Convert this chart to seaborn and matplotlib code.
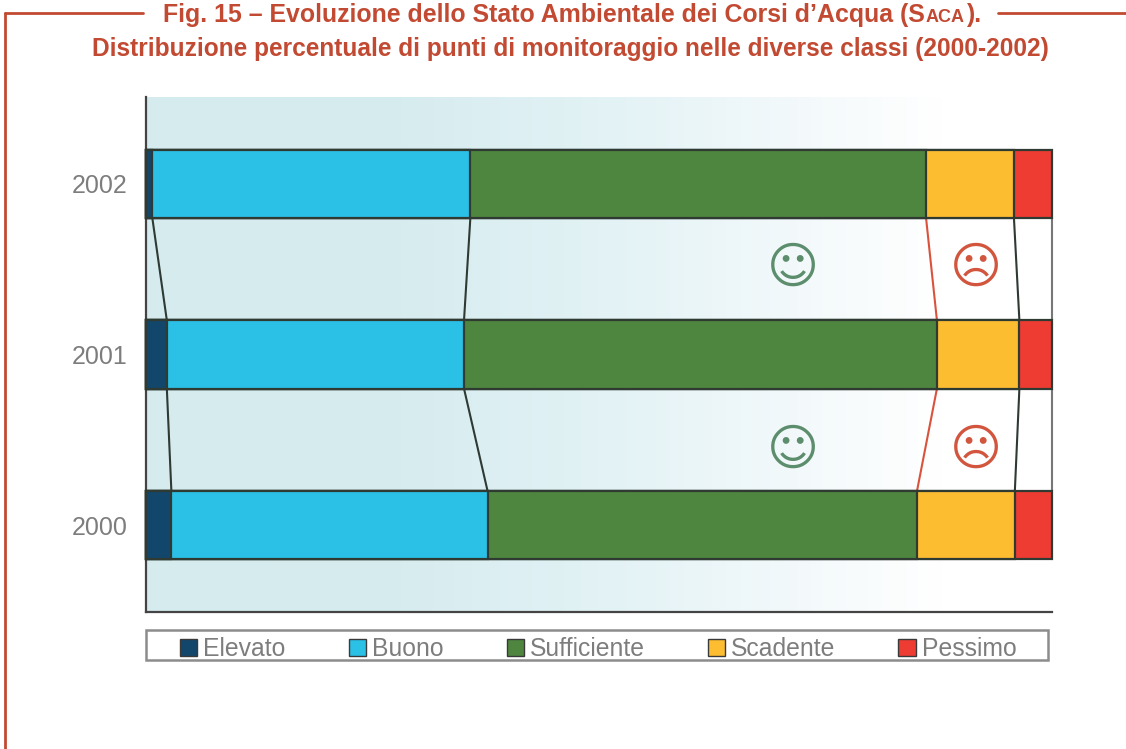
import numpy as np
import pandas as pd
import matplotlib
matplotlib.use('Agg')
import matplotlib.pyplot as plt
import seaborn as sns
from matplotlib.colors import LinearSegmentedColormap
from matplotlib.lines import Line2D
from matplotlib.patches import Patch, Rectangle

# Values (percent of monitoring points)
years = ['2002', '2001', '2000']
classes = ['Elevato', 'Buono', 'Sufficiente', 'Scadente', 'Pessimo']
elevato = [0.7, 2.3, 2.8]
buono = [35.1, 32.8, 34.9]
sufficiente = [50.3, 52.2, 47.4]
scadente = [9.7, 9.1, 10.8]
pessimo = [4.2, 3.6, 4.1]

colors = ['#12466b', '#2bc0e6', '#4f863f', '#fdbd30', '#ee3c33']
red = '#c24a32'
W, H = 1126, 749

sns.set_theme(style='white')
plt.rcParams['font.family'] = ['Liberation Sans', 'DejaVu Sans']

fig = plt.figure(figsize=(W / 100, H / 100), dpi=100)
ax = fig.add_axes([146 / W, 1 - 612 / H, (1052 - 146) / W, (612 - 97) / H])

# Background fade
fade = LinearSegmentedColormap.from_list('fade', [(0, '#d5ebee'), (0.28, '#d7ecef'), (0.5, '#e2f2f5'),
                                                  (0.72, '#f3f9fb'), (0.88, '#ffffff'), (1, '#ffffff')])
ax.imshow(np.linspace(0, 1, 256).reshape(1, -1), cmap=fade, aspect='auto', extent=(0, 100, 2.51, -0.51), zorder=0)

# Stacked bars: cumulative totals drawn from the longest down
df = pd.DataFrame({'year': years, 'Elevato': elevato, 'Buono': buono, 'Sufficiente': sufficiente,
                   'Scadente': scadente, 'Pessimo': pessimo})
cum = df[classes].cumsum(axis=1)
cum['year'] = df['year']
for name, col in reversed(list(zip(classes, colors))):
    sns.barplot(data=cum, x=name, y='year', order=years, color=col, saturation=1, width=0.4,
                edgecolor='#2f3a33', linewidth=1.6, ax=ax, zorder=3)
for bar in ax.patches:
    bar.set_clip_on(False)

# Connector lines between the bars
bar_half = 0.2
for name in classes:
    line_col = '#d9533c' if name == 'Sufficiente' else '#2f3a33'
    if name == 'Pessimo':
        line_col = '#777777'
    vals = cum[name].values
    for i in range(len(years) - 1):
        ax.plot([vals[i], vals[i + 1]], [i + bar_half, i + 1 - bar_half], color=line_col, lw=1.5, zorder=2,
                clip_on=False)

# Smiley faces
for y_face in [0.497, 1.567]:
    ax.text(71.4, y_face, '\u263a', family='DejaVu Sans', fontsize=36, color='#5c8d6c', ha='center', va='center', zorder=4)
    ax.text(91.6, y_face, '\u2639', family='DejaVu Sans', fontsize=36, color='#d2563e', ha='center', va='center', zorder=4)

ax.set_xlim(0, 100)
ax.set_ylim(2.51, -0.51)
ax.set_xlabel('')
ax.set_ylabel('')
ax.set_xticks([])
ax.tick_params(axis='y', length=0, pad=13.5, labelsize=18, labelcolor='#7d7d7d')
sns.despine(ax=ax)
for side in ['left', 'bottom']:
    ax.spines[side].set_color('#444444')
    ax.spines[side].set_linewidth(1.6)


def fx(px):
    return px / W


def fy(px):
    return 1 - px / H


# Legend in its own box
fig.add_artist(Rectangle((fx(146), fy(660)), (1048 - 146) / W, 30 / H, transform=fig.transFigure,
                         facecolor='white', edgecolor='#8c8c8c', linewidth=1.8))
handles = [Patch(facecolor=c, edgecolor='#3a3a3a', linewidth=1) for c in colors]
fig.legend(handles, classes, ncol=5, loc='center left', bbox_to_anchor=(fx(180), fy(649)), frameon=False,
           fontsize=17.8, labelcolor='#7d7d7d', handlelength=0.7, handleheight=0.7, handletextpad=0.25,
           columnspacing=2.54, borderpad=0, borderaxespad=0)

# Red frame round the figure
for xs, ys in [((5, 5), (13, 749)), ((5, 143), (13, 13)), ((998, 1126), (13, 13))]:
    fig.add_artist(Line2D([fx(x) for x in xs], [fy(y) for y in ys], color=red, lw=2))

# Title, with SACA set in small capitals
title_kw = dict(color=red, fontweight='bold', va='baseline')
renderer = fig.canvas.get_renderer()
x_now = 163
for piece, size in [('Fig. 15 \u2013 Evoluzione dello Stato Ambientale dei Corsi d\u2019Acqua (S', 17.92),
                    ('ACA', 13), (').', 17.92)]:
    t = fig.text(fx(x_now), fy(22), piece, fontsize=size, **title_kw)
    x_now = t.get_window_extent(renderer).x1 + 1
fig.text(fx(570.5), fy(56), 'Distribuzione percentuale di punti di monitoraggio nelle diverse classi (2000-2002)',
         ha='center', fontsize=17.65, **title_kw)

fig.savefig('out.png', dpi=100)
